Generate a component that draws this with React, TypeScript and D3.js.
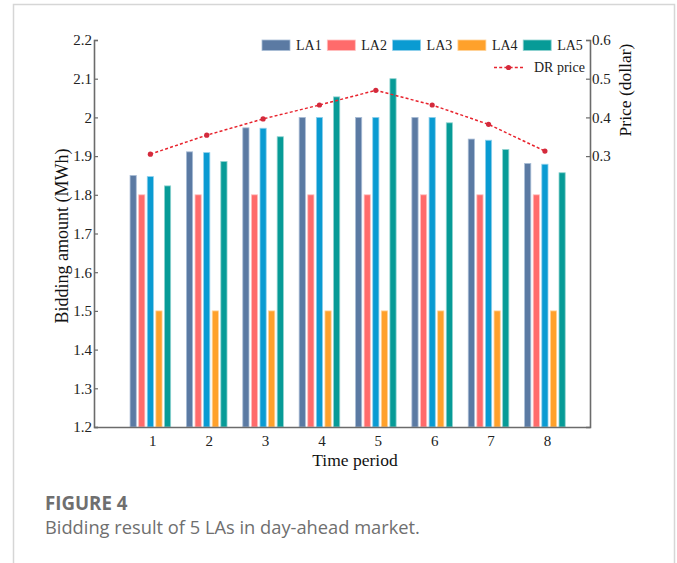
import * as d3 from 'd3';
import React, { useEffect, useRef } from 'react';

// time periods 1..8
const periods = [1, 2, 3, 4, 5, 6, 7, 8];
const seriesNames = ['LA1', 'LA2', 'LA3', 'LA4', 'LA5'];
const seriesColors = ['#5b7aa3', '#ff6b6b', '#0a9bd2', '#ffa12b', '#079b97'];
const seriesStrokes = ['#a9bdd6', '#ffc0c0', '#8fd0ec', '#ffd39a', '#8fd3d0'];

const la1 = [1.85, 1.911, 1.973, 2.0, 2.0, 2.0, 1.944, 1.881];
const la2 = [1.8, 1.8, 1.8, 1.8, 1.8, 1.8, 1.8, 1.8];
const la3 = [1.847, 1.909, 1.972, 2.0, 2.0, 2.0, 1.941, 1.879];
const la4 = [1.5, 1.5, 1.5, 1.5, 1.5, 1.5, 1.5, 1.5];
const la5 = [1.823, 1.886, 1.95, 2.053, 2.1, 1.986, 1.917, 1.857];

const drPrice = [0.305, 0.354, 0.396, 0.432, 0.47, 0.432, 0.382, 0.313];

const leftTicks = [1.2, 1.3, 1.4, 1.5, 1.6, 1.7, 1.8, 1.9, 2, 2.1, 2.2];
const rightTicks = [0.3, 0.4, 0.5, 0.6];

function App() {
    const ref = useRef(null);

    useEffect(() => {
        const svg = d3.select(ref.current);
        svg.selectAll('*').remove();

        const serif = '"Liberation Serif", "Times New Roman", serif';
        const left = 94, right = 590, top = 40, bottom = 427;

        // card frame
        svg.append('rect')
            .attr('x', 13.5).attr('y', 4.5)
            .attr('width', 661).attr('height', 620)
            .attr('fill', 'white')
            .attr('stroke', '#d6d6d6')
            .attr('stroke-width', 1.5);

        const x = d3.scaleLinear().domain([0, 8.8]).range([left, right]);
        const y = d3.scaleLinear().domain([1.2, 2.2]).range([bottom, top]);
        const yR = d3.scaleLinear().domain([-0.4, 0.6]).range([bottom, top]);

        const all = [la1, la2, la3, la4, la5];
        const step = 8.6, bw = 6.2;

        // bars
        all.forEach((vals, s) => {
            svg.append('g')
                .selectAll('rect')
                .data(vals)
                .enter()
                .append('rect')
                .attr('x', (d, i) => x(periods[i]) + (s - 2) * step - bw / 2)
                .attr('y', d => y(d))
                .attr('width', bw)
                .attr('height', d => bottom - y(d))
                .attr('fill', seriesColors[s])
                .attr('stroke', seriesStrokes[s])
                .attr('stroke-width', 0.8);
        });

        // DR price line
        const line = d3.line<number>()
            .x((d, i) => x(periods[i]))
            .y(d => yR(d));
        svg.append('path')
            .datum(drPrice)
            .attr('d', line)
            .attr('fill', 'none')
            .attr('stroke', '#e8232d')
            .attr('stroke-width', 1.5)
            .attr('stroke-dasharray', '3,2.2');
        svg.append('g')
            .selectAll('circle')
            .data(drPrice)
            .enter()
            .append('circle')
            .attr('cx', (d, i) => x(periods[i]))
            .attr('cy', d => yR(d))
            .attr('r', 2.6)
            .attr('fill', '#d42a3c');

        // axes (ticks inward)
        const axisColor = '#6b6b6b';
        const gl = svg.append('g').attr('transform', `translate(${left},0)`)
            .call(d3.axisRight(y).tickValues(leftTicks).tickSize(4).tickFormat(d3.format('')));
        gl.selectAll('text')
            .attr('x', -2)
            .attr('text-anchor', 'end');
        const gr = svg.append('g').attr('transform', `translate(${right},0)`)
            .call(d3.axisLeft(yR).tickValues(rightTicks).tickSize(4).tickFormat(d3.format('.1f')));
        gr.selectAll('text')
            .attr('x', 2)
            .attr('text-anchor', 'start');
        const gb = svg.append('g').attr('transform', `translate(0,${bottom})`)
            .call(d3.axisBottom(x).tickValues(periods).tickSize(0).tickFormat(d3.format('d')));
        gb.selectAll('text').attr('y', 0).attr('dy', 19).attr('dx', 2);

        [gl, gr, gb].forEach(g => {
            g.attr('font-size', 15).attr('font-family', serif);
            g.select('.domain').attr('stroke', axisColor).attr('stroke-width', 1.6);
            g.selectAll('line').attr('stroke', axisColor).attr('stroke-width', 1.2);
            g.selectAll('text').attr('fill', '#222').style('font-family', serif).style('font-size', '15px');
        });

        // axis titles
        svg.append('text')
            .attr('x', 355).attr('y', 466)
            .attr('text-anchor', 'middle')
            .style('font-family', serif).style('font-size', '17.5px')
            .attr('fill', '#111')
            .text('Time period');
        svg.append('text')
            .attr('transform', 'translate(68,236) rotate(-90)')
            .attr('text-anchor', 'middle')
            .style('font-family', serif).style('font-size', '18px')
            .attr('fill', '#111')
            .text('Bidding amount (MWh)');
        svg.append('text')
            .attr('transform', 'translate(631,90) rotate(-90)')
            .attr('text-anchor', 'middle')
            .style('font-family', serif).style('font-size', '17.5px')
            .attr('fill', '#111')
            .text('Price (dollar)');

        // legend
        const lg = svg.append('g');
        seriesNames.forEach((name, i) => {
            const lx = 262 + i * 65.3;
            lg.append('rect')
                .attr('x', lx).attr('y', 40)
                .attr('width', 28).attr('height', 10.5)
                .attr('fill', seriesColors[i])
                .attr('stroke', seriesStrokes[i])
                .attr('stroke-width', 0.8);
            lg.append('text')
                .attr('x', lx + 34).attr('y', 50)
                .style('font-family', serif).style('font-size', '14px')
                .attr('fill', '#222')
                .text(name);
        });
        lg.append('line')
            .attr('x1', 494).attr('x2', 523).attr('y1', 67.5).attr('y2', 67.5)
            .attr('stroke', '#e8232d').attr('stroke-width', 1.5)
            .attr('stroke-dasharray', '3,2.2');
        lg.append('circle').attr('cx', 508.5).attr('cy', 67.5).attr('r', 2.6).attr('fill', '#d42a3c');
        lg.append('text')
            .attr('x', 534).attr('y', 72)
            .style('font-family', serif).style('font-size', '14px')
            .attr('fill', '#222')
            .text('DR price');

        // caption
        const sans = '"Open Sans", "Noto Sans", sans-serif';
        svg.append('text')
            .attr('x', 45).attr('y', 510)
            .style('font-family', sans).style('font-size', '18.7px').style('font-weight', 700)
            .attr('fill', '#6f6f6f')
            .text('FIGURE 4');
        svg.append('text')
            .attr('x', 45).attr('y', 534)
            .style('font-family', sans).style('font-size', '18.3px')
            .attr('fill', '#6f6f6f')
            .text('Bidding result of 5 LAs in day-ahead market.');
    }, []);

    return (
        <svg ref={ref} width={677} height={563} style={{ position: 'absolute', left: 0, top: 0 }}></svg>
    );
}

export default App;
